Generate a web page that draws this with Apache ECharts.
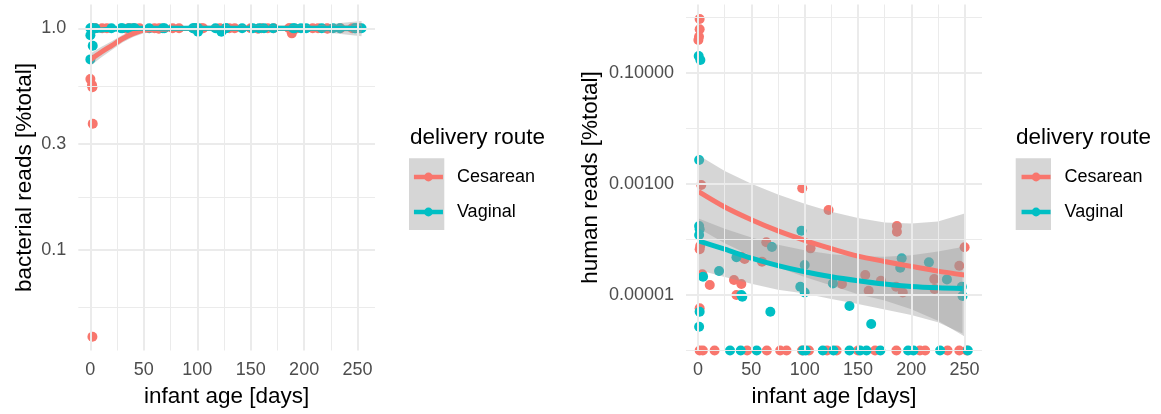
<!DOCTYPE html>
<html><head><meta charset="utf-8">
<script src="https://cdn.jsdelivr.net/npm/echarts@6/dist/echarts.min.js"></script>
<style>html,body{margin:0;padding:0;background:#fff}#c{width:1161px;height:414px}</style>
</head><body><div id="c"></div>
<script>
// ---------------- data ----------------
const xMajor = [0, 50, 100, 150, 200, 250];
const xMinor = [25, 75, 125, 175, 225];
const leftTickValues = [0.1, 0.3, 1.0];
const leftTickLabels = ['0.1', '0.3', '1.0'];
const leftMinorValues = [0.0548, 0.1732, 0.5477];
const rightTickValues = [0.00001, 0.001, 0.1];
const rightTickLabels = ['0.00001', '0.00100', '0.10000'];
const rightMinorValues = [0.000001, 0.0001, 0.01, 1];
const groups = ['Cesarean', 'Vaginal'];

// left panel: bacterial reads (fraction of total)
const bactCesDays = [0, 1.5, 1.9, 2.2, 1.9, 188.5, 1.5, 3, 4, 4.5, 11, 15.5, 33.7, 36, 36.5, 40.6, 43.7, 46, 60, 64, 64.5, 77, 83, 97.5, 97.7, 104, 105.5, 121, 122.4, 130, 135, 150, 156.8, 160, 166, 171.5, 185.8, 186.5, 192, 208, 213, 221.5, 221.8, 234, 245, 250, 252];
const bactCesVals = [0.59, 0.555, 0.542, 0.371, 0.0406, 0.949, 1.0, 1.0, 1.0, 1.0, 1.0, 1.0, 0.995, 1.0, 1.0, 1.0, 0.995, 1.0, 1.0, 0.995, 1.0, 1.0, 1.0, 0.995, 1.0, 1.0, 1.0, 1.0, 0.995, 1.0, 1.0, 1.0, 0.995, 1.0, 1.0, 1.0, 1.0, 1.0, 0.995, 1.0, 1.0, 1.0, 0.995, 1.0, 1.0, 1.0, 1.0];
const bactVagDays = [0, 2.2, 0, 100.7, 122.6, 0, 1, 1.5, 4.7, 19.7, 28.7, 30, 36, 40, 41.5, 55, 67.8, 69.3, 95.9, 97, 98.5, 101, 117, 126.5, 127, 142, 152, 158, 162.4, 171, 189.6, 191, 197, 202, 216.5, 227, 233.4, 247.4, 248, 253.7];
const bactVagVals = [0.93, 0.834, 0.724, 0.966, 0.966, 1.0, 1.0, 1.0, 1.0, 1.0, 1.0, 1.0, 1.0, 1.0, 1.0, 1.0, 1.0, 1.0, 1.0, 1.0, 1.0, 1.0, 1.0, 1.0, 1.0, 1.0, 1.0, 1.0, 1.0, 1.0, 1.0, 1.0, 1.0, 1.0, 1.0, 1.0, 1.0, 1.0, 1.0, 1.0];
const bactFitDays = [0.5, 10, 20, 30, 40, 50, 75, 100, 150, 200, 253.7];
const bactCesFit = [0.724, 0.780, 0.836, 0.897, 0.946, 0.979, 0.995, 1.0, 1.0, 1.0, 1.0];
const bactCesLower = [0.680, 0.738, 0.798, 0.863, 0.914, 0.949, 0.972, 0.98, 0.985, 0.982, 0.92];
const bactCesUpper = [0.771, 0.824, 0.875, 0.933, 0.979, 1.010, 1.03, 1.02, 1.015, 1.018, 1.08];
const bactVagFit = [0.975, 0.983, 0.99, 0.996, 0.999, 1.0, 1.0, 1.0, 1.0, 1.0, 1.0];
const bactVagLower = [0.945, 0.96, 0.972, 0.982, 0.988, 0.99, 0.99, 0.992, 0.993, 0.99, 0.96];
const bactVagUpper = [1.006, 1.006, 1.008, 1.01, 1.01, 1.01, 1.01, 1.008, 1.007, 1.01, 1.04];

// right panel: human reads (fraction of total); 0 = no human reads (drawn at panel edge)
const humCesDays = [1.5, 1.5, 0.9, 0.3, 3, 97.7, 122.4, 2, 1.5, 64, 105.5, 40.6, 43.7, 60, 4, 11, 33.7, 40.6, 36, 1.5, 186.5, 186.5, 250, 245, 156.8, 135, 171.5, 160, 185.8, 192, 221.5, 221.8,
  1.5, 4.5, 15.5, 46, 64.5, 77, 83, 97.5, 104, 121, 130, 150, 166, 186, 208, 213, 234, 245, 252];
const humCesVals = [0.929, 0.605, 0.446, 0.388, 9.5e-4, 8.26e-4, 3.36e-4, 7.53e-5, 6.61e-5, 8.79e-5, 6.84e-5, 4.84e-5, 4.40e-5, 3.94e-5, 2.33e-5, 1.50e-5, 1.84e-5, 1.56e-5, 9.9e-6, 5.7e-6, 1.73e-4, 1.36e-4, 7.14e-5, 3.33e-5, 2.26e-5, 1.56e-5, 1.79e-5, 1.18e-5, 1.39e-5, 1.10e-5, 1.91e-5, 1.27e-5,
  0, 0, 0, 0, 0, 0, 0, 0, 0, 0, 0, 0, 0, 0, 0, 0, 0, 0, 0];
const humVagDays = [0.6, 2.2, 1, 1, 1.5, 1, 97, 69.3, 36, 100, 19.7, 4.7, 41.5, 40.6, 95.9, 100, 126.5, 1.5, 67.8, 1, 191, 189.6, 216.5, 233.4, 247.4, 248, 142, 162.4,
  30, 40, 55, 98.5, 101, 117, 127, 142, 152, 158, 171, 197, 202, 227, 253];
const humVagVals = [0.2, 0.169, 2.67e-3, 1.73e-4, 1.51e-4, 1.19e-4, 1.42e-4, 7.24e-5, 4.72e-5, 3.43e-5, 2.67e-5, 2.11e-5, 9.2e-6, 9.9e-6, 1.39e-5, 1.10e-5, 1.60e-5, 4.94e-6, 4.94e-6, 2.65e-6, 4.52e-5, 3.07e-5, 3.83e-5, 1.89e-5, 1.39e-5, 9.5e-6, 6.25e-6, 2.96e-6,
  0, 0, 0, 0, 0, 0, 0, 0, 0, 0, 0, 0, 0, 0, 0];
const humCesFitDays = [0.5, 25, 50, 75, 100, 125, 150, 175, 200, 225, 250];
const humCesFit = [7.18e-4, 3.80e-4, 2.24e-4, 1.41e-4, 9.55e-5, 6.76e-5, 4.95e-5, 3.98e-5, 3.24e-5, 2.66e-5, 2.26e-5];
const humCesUpper = [3.25e-3, 1.70e-3, 1.0e-3, 6.38e-4, 4.37e-4, 3.13e-4, 2.40e-4, 2.0e-4, 1.91e-4, 2.09e-4, 2.92e-4];
const humCesLower = [1.58e-4, 8.5e-5, 5.0e-5, 3.13e-5, 2.09e-5, 1.46e-5, 1.02e-5, 7.9e-6, 5.5e-6, 3.4e-6, 1.76e-6];
const humVagFitDays = [0.5, 25, 50, 75, 100, 125, 150, 175, 200, 225, 248];
const humVagFit = [9.33e-5, 6.61e-5, 4.57e-5, 3.35e-5, 2.60e-5, 2.11e-5, 1.79e-5, 1.56e-5, 1.41e-5, 1.33e-5, 1.29e-5];
const humVagUpper = [2.36e-4, 1.55e-4, 1.07e-4, 7.94e-5, 6.31e-5, 5.37e-5, 4.95e-5, 4.84e-5, 5.13e-5, 6.0e-5, 7.24e-5];
const humVagLower = [2.79e-5, 2.09e-5, 1.58e-5, 1.23e-5, 1.05e-5, 8.4e-6, 6.8e-6, 5.4e-6, 4.3e-6, 3.2e-6, 2.0e-6];

// ---------------- chart ----------------
const COL = { Cesarean: '#F8766D', Vaginal: '#00BFC4' };
const FONT = 'Liberation Sans, Arial, Helvetica, sans-serif';
const GRID_COL = '#EBEBEB';
const X_MIN = -11.3, X_MAX = 266.3;
const LEFT_Y = [-1.4533, 0.1074];
const RIGHT_Y = [-6.005, 0.229];

const lg = (v, floor) => (v > 0 ? Math.log10(v) : floor);
function labelFor(values, labels) {
  return function (val) {
    for (let i = 0; i < values.length; i++) {
      if (Math.abs(Math.log10(values[i]) - val) < 1e-6) return labels[i];
    }
    return '';
  };
}

function gridLines(gi, yMajor, yMinor) {
  const major = { color: GRID_COL, width: 2, type: 'solid' };
  const minor = { color: GRID_COL, width: 1, type: 'solid' };
  const data = [];
  xMinor.forEach(v => data.push({ xAxis: v, lineStyle: minor }));
  yMinor.forEach(v => data.push({ yAxis: Math.log10(v), lineStyle: minor }));
  xMajor.forEach(v => data.push({ xAxis: v, lineStyle: major }));
  yMajor.forEach(v => data.push({ yAxis: Math.log10(v), lineStyle: major }));
  return {
    type: 'line', xAxisIndex: gi, yAxisIndex: gi, data: [], z: 1, silent: true,
    markLine: { silent: true, symbol: ['none', 'none'], label: { show: false }, animation: false,
      lineStyle: { type: 'solid' }, emphasis: { disabled: true }, data: data }
  };
}

function points(gi, name, days, vals, floor) {
  return {
    type: 'scatter', name: name + ' samples', xAxisIndex: gi, yAxisIndex: gi, z: 2, silent: true,
    symbol: 'circle', symbolSize: 10, itemStyle: { color: COL[name], opacity: 1 },
    data: days.map((d, i) => [d, lg(vals[i], floor)])
  };
}

function ribbon(gi, days, lower, upper) {
  const rows = days.map((d, i) => [d, Math.log10(lower[i]), Math.log10(upper[i])]);
  return {
    type: 'custom', xAxisIndex: gi, yAxisIndex: gi, z: 3, silent: true,
    data: rows, encode: { x: 0, y: [1, 2] },
    renderItem: function (params, api) {
      if (params.dataIndex !== 0) return null;
      const top = [], bot = [];
      for (let i = 0; i < rows.length; i++) {
        top.push(api.coord([api.value(0, i), api.value(2, i)]));
        bot.push(api.coord([api.value(0, i), api.value(1, i)]));
      }
      const cs = params.coordSys;
      return {
        type: 'polygon',
        shape: { points: top.concat(bot.reverse()) },
        style: { fill: 'rgba(153,153,153,0.4)', stroke: null },
        clipPath: { type: 'rect', shape: { x: cs.x, y: cs.y, width: cs.width, height: cs.height } }
      };
    }
  };
}

function fit(gi, name, days, vals) {
  return {
    type: 'line', name: name, xAxisIndex: gi, yAxisIndex: gi, z: 4, silent: true,
    symbol: 'circle', showSymbol: false, smooth: 0.3,
    itemStyle: { color: COL[name], borderWidth: 0 },
    lineStyle: { color: COL[name], width: 5 },
    data: days.map((d, i) => [d, Math.log10(vals[i])])
  };
}

const xAxisBase = {
  type: 'value', min: X_MIN, max: X_MAX,
  name: 'infant age [days]', nameLocation: 'middle', nameGap: 35,
  nameTextStyle: { fontSize: 22.5, color: '#000', fontFamily: FONT },
  axisLine: { show: false }, axisTick: { show: false }, splitLine: { show: false },
  axisLabel: { customValues: xMajor, color: '#4D4D4D', fontSize: 18, fontFamily: FONT, margin: 11 }
};

const legendBase = {
  data: groups, orient: 'vertical', top: 167, itemWidth: 29, itemHeight: 11, itemGap: 15,
  padding: 0, selectedMode: false,
  lineStyle: { width: 4.5 },
  textStyle: { fontSize: 18, color: '#000', fontFamily: FONT, lineHeight: 20, padding: [0, 0, 0, 9] }
};

const option = {
  animation: false,
  backgroundColor: '#fff',
  grid: [
    { left: 78.3, top: 4.5, width: 296.7, height: 346 },
    { left: 686, top: 4.5, width: 296, height: 346 }
  ],
  xAxis: [Object.assign({ gridIndex: 0 }, xAxisBase), Object.assign({ gridIndex: 1 }, xAxisBase)],
  yAxis: [
    { type: 'value', gridIndex: 0, min: LEFT_Y[0], max: LEFT_Y[1],
      name: 'bacterial reads [%total]', nameLocation: 'middle', nameGap: 42,
      nameTextStyle: { fontSize: 22.5, color: '#000', fontFamily: FONT },
      axisLine: { show: false }, axisTick: { show: false }, splitLine: { show: false },
      axisLabel: { customValues: leftTickValues.map(v => Math.log10(v)), formatter: labelFor(leftTickValues, leftTickLabels),
        color: '#4D4D4D', fontSize: 18, fontFamily: FONT, margin: 12 } },
    { type: 'value', gridIndex: 1, min: RIGHT_Y[0], max: RIGHT_Y[1],
      name: 'human reads [%total]', nameLocation: 'middle', nameGap: 84,
      nameTextStyle: { fontSize: 22.5, color: '#000', fontFamily: FONT },
      axisLine: { show: false }, axisTick: { show: false }, splitLine: { show: false },
      axisLabel: { customValues: rightTickValues.map(v => Math.log10(v)), formatter: labelFor(rightTickValues, rightTickLabels),
        color: '#4D4D4D', fontSize: 18, fontFamily: FONT, margin: 12 } }
  ],
  legend: [
    Object.assign({ left: 411.7 }, legendBase),
    Object.assign({ left: 1019.3 }, legendBase)
  ],
  graphic: [
    { type: 'rect', z: 0, silent: true, shape: { x: 409, y: 158.3, width: 35.3, height: 71.7 }, style: { fill: '#D6D6D6' } },
    { type: 'rect', z: 0, silent: true, shape: { x: 1015.7, y: 158.3, width: 35.3, height: 71.7 }, style: { fill: '#D6D6D6' } },
    { type: 'text', z: 0, silent: true, x: 410, y: 138, style: { text: 'delivery route', font: '22.5px ' + FONT, fill: '#000', verticalAlign: 'middle' } },
    { type: 'text', z: 0, silent: true, x: 1016, y: 138, style: { text: 'delivery route', font: '22.5px ' + FONT, fill: '#000', verticalAlign: 'middle' } }
  ],
  series: [
    fit(0, 'Cesarean', bactFitDays, bactCesFit),
    fit(0, 'Vaginal', bactFitDays, bactVagFit),
    fit(1, 'Cesarean', humCesFitDays, humCesFit),
    fit(1, 'Vaginal', humVagFitDays, humVagFit),
    gridLines(0, leftTickValues, leftMinorValues),
    gridLines(1, rightTickValues, rightMinorValues),
    points(0, 'Cesarean', bactCesDays, bactCesVals, LEFT_Y[0]),
    points(0, 'Vaginal', bactVagDays, bactVagVals, LEFT_Y[0]),
    points(1, 'Cesarean', humCesDays, humCesVals, RIGHT_Y[0]),
    points(1, 'Vaginal', humVagDays, humVagVals, RIGHT_Y[0]),
    ribbon(0, bactFitDays, bactCesLower, bactCesUpper),
    ribbon(0, bactFitDays, bactVagLower, bactVagUpper),
    ribbon(1, humCesFitDays, humCesLower, humCesUpper),
    ribbon(1, humVagFitDays, humVagLower, humVagUpper)
  ]
};

const chart = echarts.init(document.getElementById('c'), null, { renderer: 'canvas' });
chart.setOption(option);
</script>
</body></html>
